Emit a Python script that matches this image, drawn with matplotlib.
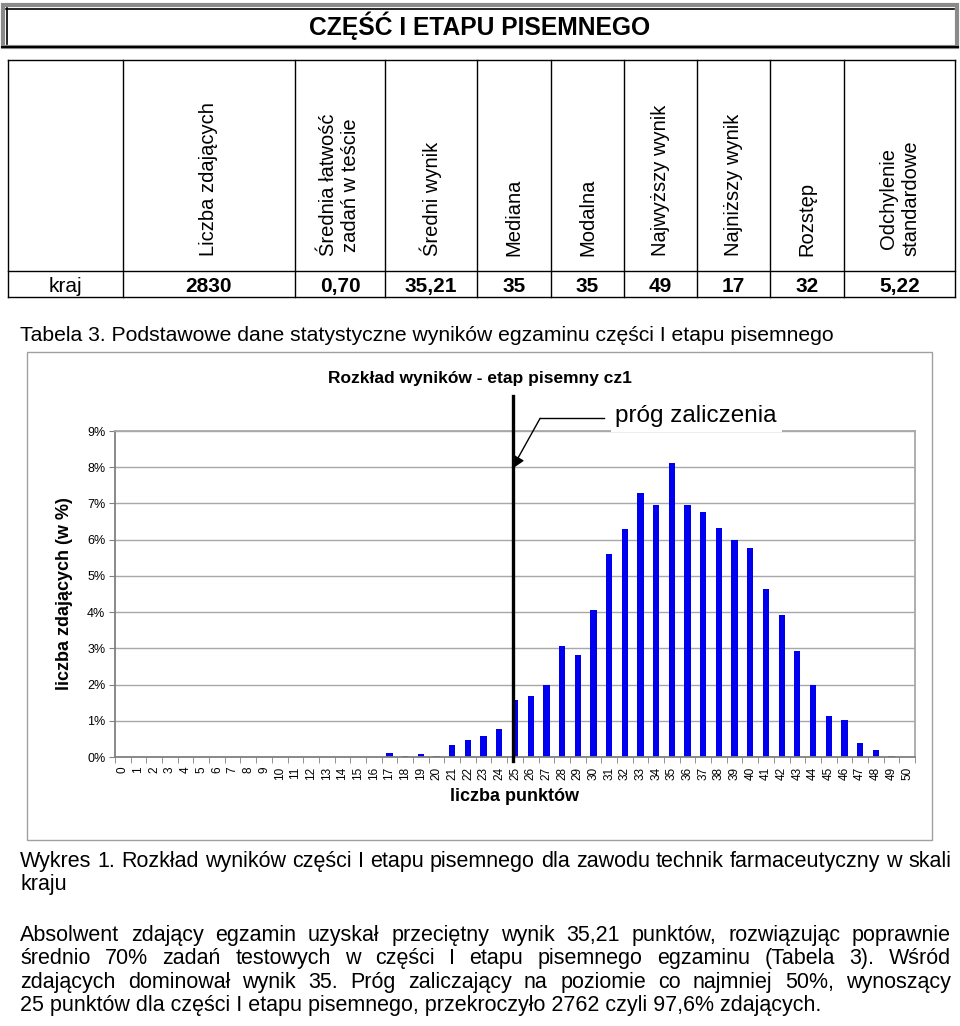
import matplotlib
matplotlib.use('Agg')
import matplotlib.pyplot as plt
from matplotlib.patches import Rectangle
from matplotlib.ticker import FixedLocator
import numpy as np

plt.rcParams['font.family'] = ['Liberation Sans', 'DejaVu Sans']

# tabela 3 - dane
naglowki = ['Liczba zdających', 'Średnia łatwość\nzadań w teście', 'Średni wynik',
            'Mediana', 'Modalna', 'Najwyższy wynik', 'Najniższy wynik',
            'Rozstęp', 'Odchylenie\nstandardowe']
wiersz = 'kraj'
wartosci = ['2830', '0,70', '35,21', '35', '35', '49', '17', '32', '5,22']

# wykres 1 - rozkład wyników (w %)
punkty = list(range(51))
procent = [0, 0, 0, 0, 0, 0, 0, 0, 0, 0,
           0, 0, 0, 0, 0, 0, 0, 0.12, 0.04, 0.07,
           0.04, 0.32, 0.46, 0.57, 0.78, 1.58, 1.69, 2.00, 3.06, 2.82,
           4.06, 5.61, 6.29, 7.28, 6.97, 8.13, 6.97, 6.76, 6.32, 6.00,
           5.76, 4.63, 3.93, 2.93, 2.00, 1.12, 1.01, 0.38, 0.19, 0.03,
           0]
prog = 25

podpis_tab = 'Tabela 3. Podstawowe dane statystyczne wyników egzaminu części I etapu pisemnego'
podpis_wyk = ['Wykres 1. Rozkład wyników części I etapu pisemnego dla zawodu technik farmaceutyczny w skali',
              'kraju']
akapit = ['Absolwent zdający egzamin uzyskał przeciętny wynik 35,21 punktów, rozwiązując poprawnie',
          'średnio 70% zadań testowych w części I etapu pisemnego egzaminu (Tabela 3). Wśród',
          'zdających dominował wynik 35. Próg zaliczający na poziomie co najmniej 50%, wynoszący',
          '25 punktów dla części I etapu pisemnego, przekroczyło 2762 czyli 97,6% zdających.']

W, H = 960, 1026
fig = plt.figure(figsize=(W / 100, H / 100), dpi=100)
bg = fig.add_axes([0, 0, 1, 1])
bg.set_xlim(0, W)
bg.set_ylim(H, 0)
bg.axis('off')
rend = fig.canvas.get_renderer()


def justify(line, x0, x1, y, size, full=True):
    if not full:
        bg.text(x0, y, line, fontsize=size, va='baseline', ha='left')
        return
    words = line.split(' ')
    ts = [bg.text(0, y, w, fontsize=size, va='baseline', ha='left') for w in words]
    ws = [t.get_window_extent(rend).width for t in ts]
    gap = (x1 - x0 - sum(ws)) / (len(words) - 1)
    x = x0
    for t, w in zip(ts, ws):
        t.set_x(x)
        x += w + gap


#%% naglowek
bg.add_patch(Rectangle((3, 5), 954, 42, fill=False, ec='#8a8a8a', lw=3))
bg.plot([6, 954], [8.5, 8.5], color='black', lw=1.2)
bg.plot([6.5, 6.5], [8, 44], color='black', lw=1.2)
bg.plot([2, 958], [47, 47], color='black', lw=1.5)
bg.text(480, 26, 'CZĘŚĆ I ETAPU PISEMNEGO', fontsize=17.7, fontweight='bold',
        ha='center', va='center')

#%% tabela
kol = [8, 123, 295, 385, 477, 551, 624, 697, 770, 844, 955]
t_top, t_mid, t_bot = 60, 271, 297
for y in (t_top, t_mid, t_bot):
    bg.plot([kol[0], kol[-1]], [y, y], color='black', lw=1)
for x in kol:
    bg.plot([x, x], [t_top, t_bot], color='black', lw=1)
srodki = [(a + b) / 2 for a, b in zip(kol[:-1], kol[1:])]
bg.text(srodki[0], 292, wiersz, fontsize=15, ha='center', va='baseline')
for xc, nag, val in zip(srodki[1:], naglowki, wartosci):
    bg.text(xc, 256, nag, fontsize=14.5, rotation=90, ha='center', va='bottom',
            linespacing=1.2)
    bg.text(xc, 292, val, fontsize=15, fontweight='bold', ha='center', va='baseline')

bg.text(20, 341, podpis_tab, fontsize=15.2, va='baseline')

#%% wykres
bg.add_patch(Rectangle((27, 352), 905, 488, fill=False, ec='#a0a0a0', lw=1))
bg.text(480, 378, 'Rozkład wyników - etap pisemny cz1', fontsize=12.5,
        fontweight='bold', ha='center', va='center')

ax = fig.add_axes([115 / W, (H - 757) / H, 800 / W, 326 / H])
ax.bar(punkty, procent, width=0.4, color='#0000ee', zorder=2)
ax.set_xlim(-0.5, 50.5)
ax.set_ylim(0, 9)
ax.set_yticks(range(10))
ax.set_yticklabels([f'{i}%' for i in range(10)])
ax.yaxis.grid(True, color='#a8a8a8', lw=1)
ax.set_axisbelow(True)
for s in ('left', 'bottom'):
    ax.spines[s].set_color('#808080')
    ax.spines[s].set_linewidth(1.3)
for s in ('top', 'right'):
    ax.spines[s].set_color('#a8a8a8')
    ax.spines[s].set_linewidth(1.3)
ax.set_xticks(punkty)
ax.set_xticklabels([str(p) for p in punkty], rotation=90)
ax.xaxis.set_minor_locator(FixedLocator(np.arange(-0.5, 51, 1)))
ax.tick_params(axis='x', which='major', length=0, pad=7, labelsize=8.5)
ax.tick_params(axis='x', which='minor', length=4, color='#808080')
ax.tick_params(axis='y', length=4, color='#808080', labelsize=9, pad=3)
ax.set_xlabel('liczba punktów', fontsize=13, fontweight='bold', labelpad=6)
ax.set_ylabel('liczba zdających (w %)', fontsize=13, fontweight='bold', labelpad=10)

# prog zaliczenia
xp = prog - 0.15
ax.plot([xp, xp], [-0.1, 9.97], color='black', lw=2.4, clip_on=False, zorder=5)
ax.plot([26.6, 30.7], [9.35, 9.35], color='black', lw=1, clip_on=False, zorder=5)
ax.annotate('', xy=(xp - 0.05, 7.95), xytext=(26.6, 9.35), annotation_clip=False,
            arrowprops=dict(arrowstyle='-|>', color='black', lw=1,
                            mutation_scale=20, shrinkA=0, shrinkB=0), zorder=5)
ax.text(31.4, 9.42, 'próg zaliczenia', fontsize=17.5, ha='left', va='center',
        clip_on=False, zorder=6,
        bbox=dict(boxstyle='square,pad=0.2', fc='white', ec='none'))

#%% podpisy pod wykresem
justify(podpis_wyk[0], 20, 951, 867, 15.5)
justify(podpis_wyk[1], 20, 951, 890, 15.5, full=False)
for i, line in enumerate(akapit):
    justify(line, 20, 951, 941 + i * 23.3, 15.5, full=(i < len(akapit) - 1))

fig.savefig('out.png', dpi=100)
